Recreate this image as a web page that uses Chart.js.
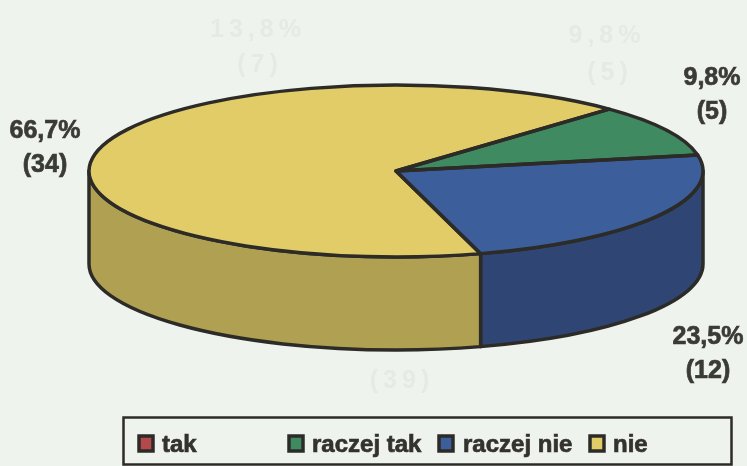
<!DOCTYPE html>
<html>
<head>
<meta charset="utf-8">
<style>
  html, body { margin: 0; padding: 0; background: #eff3ed; overflow: hidden; }
  #wrap { position: relative; width: 747px; height: 466px; }
  #wrap canvas { display: block; }
</style>
<script src="https://cdn.jsdelivr.net/npm/chart.js@4"></script>
</head>
<body>
<div id="wrap"><canvas id="pie"></canvas></div>
<script>
// Data
const categories = ['tak', 'raczej tak', 'raczej nie', 'nie'];
const counts = [0, 5, 12, 34];
const percentLabels = ['0%', '9,8%', '23,5%', '66,7%'];

// Colours
const topColors = ['#b5484a', '#3f8a60', '#3c5f9b', '#e2cc68'];
const wallColors = ['#8a3638', '#2f6a49', '#2f4675', '#b0a052'];
const inkColor = '#2c2b27';
const textColor = '#3a3a37';

// Pie shape (ellipse seen from above, with a thick edge)
const tilt = 0.28;
const depth = 93;

// Print-through from the other side of the scanned page
const ghostTexts = [
    ['13,8%', 258, 30], ['(7)', 260, 65],
    ['9,8%', 607, 36], ['(5)', 610, 73],
    ['(39)', 402, 381]
];

// Where the value labels sit, one per category (null = no label)
const labelSpots = [null, [712, 78], [708, 337], [45, 131]];
const legendSpots = [[137, 162], [287, 312], [437, 463], [588, 613]];

function ellipsePath(ctx, arc, dy, from, to, ccw) {
    ctx.ellipse(arc.x, arc.y + dy, arc.outerRadius, arc.outerRadius * tilt, 0, from, to, ccw);
}

function drawWalls(chart) {
    const ctx = chart.ctx;
    const arcs = chart.getDatasetMeta(0).data;
    ctx.save();
    ctx.strokeStyle = inkColor;
    ctx.lineWidth = 3.5;
    ctx.lineJoin = 'round';
    arcs.forEach(function(arc, i) {
        if (!counts[i]) return;
        // only the front half of the rim is visible
        for (let k = -1; k <= 1; k++) {
            const from = Math.max(arc.startAngle + k * 2 * Math.PI, 0);
            const to = Math.min(arc.endAngle + k * 2 * Math.PI, Math.PI);
            if (to <= from) continue;
            ctx.beginPath();
            ellipsePath(ctx, arc, 0, from, to, false);
            ellipsePath(ctx, arc, depth, to, from, true);
            ctx.closePath();
            ctx.fillStyle = wallColors[i];
            ctx.fill();
            ctx.stroke();
        }
    });
    ctx.restore();
}

function drawOutlines(chart) {
    const ctx = chart.ctx;
    const arcs = chart.getDatasetMeta(0).data;
    ctx.save();
    ctx.strokeStyle = inkColor;
    ctx.lineWidth = 3.5;
    ctx.lineJoin = 'round';
    arcs.forEach(function(arc, i) {
        if (!counts[i]) return;
        ctx.beginPath();
        ctx.moveTo(arc.x, arc.y);
        ellipsePath(ctx, arc, 0, arc.startAngle, arc.endAngle, false);
        ctx.closePath();
        ctx.stroke();
    });
    ctx.restore();
}

function boldText(ctx, text, x, y) {
    ctx.fillText(text, x, y);
    ctx.strokeText(text, x, y);
}

function drawTexts(chart) {
    const ctx = chart.ctx;
    ctx.save();
    ctx.textBaseline = 'middle';
    ctx.textAlign = 'center';

    ctx.font = 'bold 25px "Liberation Sans"';
    ctx.letterSpacing = '5px';
    ctx.fillStyle = '#e6eae4';
    ghostTexts.forEach(function(g) {
        ctx.fillText(g[0], g[1], g[2]);
    });
    ctx.letterSpacing = '0px';

    ctx.fillStyle = textColor;
    ctx.strokeStyle = textColor;
    ctx.lineWidth = 0.7;
    labelSpots.forEach(function(spot, i) {
        if (!spot) return;
        boldText(ctx, percentLabels[i], spot[0], spot[1]);
        boldText(ctx, '(' + counts[i] + ')', spot[0], spot[1] + 34);
    });

    // Legend box, runs off the bottom of the scan
    ctx.strokeStyle = inkColor;
    ctx.lineWidth = 2.5;
    ctx.strokeRect(123.5, 417.5, 608, 47);
    ctx.font = 'bold 24px "Liberation Sans"';
    ctx.textAlign = 'left';
    ctx.textBaseline = 'alphabetic';
    categories.forEach(function(name, i) {
        const s = legendSpots[i];
        ctx.fillStyle = topColors[i];
        ctx.strokeStyle = inkColor;
        ctx.lineWidth = 3.5;
        ctx.fillRect(s[0] + 2, 436, 14, 15);
        ctx.strokeRect(s[0] + 2, 436, 14, 15);
        ctx.fillStyle = '#33322f';
        ctx.strokeStyle = '#33322f';
        ctx.lineWidth = 0.7;
        boldText(ctx, name, s[1], 452);
    });
    ctx.restore();
}

const pie3d = {
    id: 'pie3d',
    beforeDatasetsDraw(chart) {
        drawWalls(chart);
        const arc = chart.getDatasetMeta(0).data[0];
        const ctx = chart.ctx;
        ctx.save();
        ctx.translate(0, arc.y);
        ctx.scale(1, tilt);
        ctx.translate(0, -arc.y);
    },
    afterDatasetsDraw(chart) {
        chart.ctx.restore();
        drawOutlines(chart);
        drawTexts(chart);
    }
};

new Chart(document.getElementById('pie'), {
    type: 'pie',
    plugins: [pie3d],
    data: {
        labels: categories,
        datasets: [{
            data: counts,
            backgroundColor: topColors,
            borderWidth: 0,
            clip: false
        }]
    },
    options: {
        responsive: true,
        maintainAspectRatio: false,
        animation: false,
        rotation: 44,
        radius: 307,
        layout: { padding: { left: 45, right: 0, top: 0, bottom: 124 } },
        plugins: {
            legend: { display: false },
            tooltip: { enabled: false }
        }
    }
});
</script>
</body>
</html>
